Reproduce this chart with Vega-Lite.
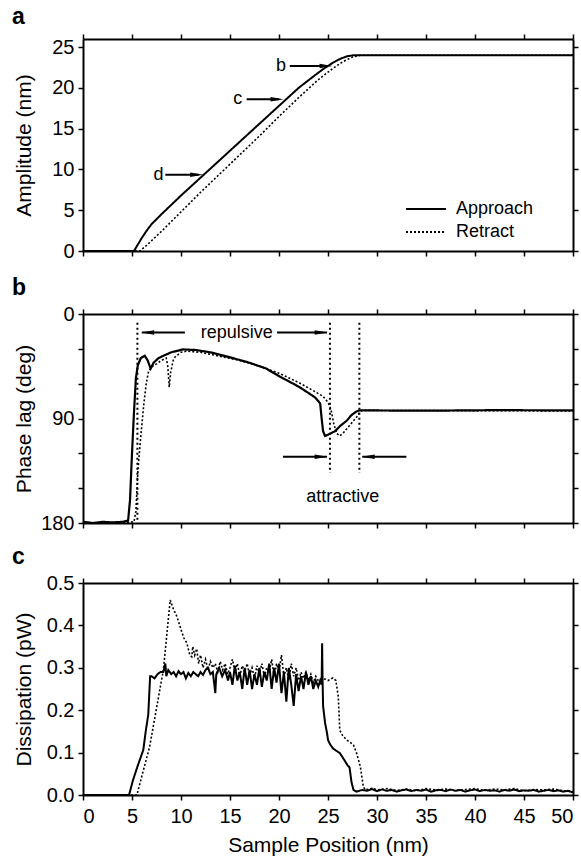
{
  "$schema": "https://vega.github.io/schema/vega-lite/v6.json",
  "background": "white",
  "padding": {"left": 12, "top": 6, "right": 6, "bottom": 4},
  "spacing": 16,
  "config": {
    "font": "Liberation Sans",
    "view": {"stroke": null},
    "axis": {
      "domainColor": "black", "domainWidth": 2, "tickColor": "black", "tickWidth": 1.5, "tickSize": 5,
      "labelColor": "black", "labelFontSize": 20, "labelPadding": 4, "titleFontSize": 21, "titleFontWeight": "normal",
      "titleColor": "black", "grid": false
    },
    "title": {"anchor": "start", "frame": "group", "dx": -71, "fontSize": 23, "fontWeight": "bold", "color": "black", "offset": 4},
    "legend": {"labelFontSize": 18, "labelColor": "black", "symbolStrokeColor": "black", "symbolStrokeWidth": 2, "symbolType": "M-2,0L2,0", "symbolSize": 400, "title": null, "rowPadding": 3, "labelOffset": 19}
  },
  "vconcat": [
    {
      "title": "a",
      "width": 490, "height": 212,
      "data": {"values": [
        {"x": 0, "v": 0, "s": "Approach"}, {"x": 5.2, "v": 0, "s": "Approach"}, {"x": 5.5, "v": 0.6, "s": "Approach"}, {"x": 6.0, "v": 1.6, "s": "Approach"}, {"x": 6.5, "v": 2.5, "s": "Approach"}, {"x": 7.0, "v": 3.3, "s": "Approach"}, {"x": 8, "v": 4.5, "s": "Approach"}, {"x": 10, "v": 6.8, "s": "Approach"}, {"x": 12, "v": 9.0, "s": "Approach"}, {"x": 14, "v": 11.2, "s": "Approach"}, {"x": 16, "v": 13.4, "s": "Approach"}, {"x": 18, "v": 15.6, "s": "Approach"}, {"x": 20, "v": 17.8, "s": "Approach"}, {"x": 22, "v": 20.0, "s": "Approach"}, {"x": 23.5, "v": 21.4, "s": "Approach"}, {"x": 24.5, "v": 22.3, "s": "Approach"}, {"x": 25.5, "v": 23.1, "s": "Approach"}, {"x": 26.3, "v": 23.6, "s": "Approach"}, {"x": 27, "v": 23.9, "s": "Approach"}, {"x": 27.6, "v": 24.0, "s": "Approach"}, {"x": 50, "v": 24.0, "s": "Approach"},
        {"x": 0, "v": 0, "s": "Retract"}, {"x": 5.8, "v": 0, "s": "Retract"}, {"x": 6.5, "v": 0.7, "s": "Retract"}, {"x": 8, "v": 2.4, "s": "Retract"}, {"x": 10, "v": 4.8, "s": "Retract"}, {"x": 12, "v": 7.2, "s": "Retract"}, {"x": 14, "v": 9.5, "s": "Retract"}, {"x": 16, "v": 11.8, "s": "Retract"}, {"x": 18, "v": 14.1, "s": "Retract"}, {"x": 20, "v": 16.5, "s": "Retract"}, {"x": 22, "v": 18.8, "s": "Retract"}, {"x": 24, "v": 21.0, "s": "Retract"}, {"x": 25.5, "v": 22.4, "s": "Retract"}, {"x": 26.5, "v": 23.2, "s": "Retract"}, {"x": 27.5, "v": 23.8, "s": "Retract"}, {"x": 28.3, "v": 24.0, "s": "Retract"}, {"x": 50, "v": 24.0, "s": "Retract"}
      ]},
      "resolve": {"axis": {"x": "independent", "y": "independent"}},
      "layer": [
        {
          "transform": [{"filter": "datum.s === 'Approach'"}],
          "mark": {"type": "line", "color": "black", "strokeWidth": 2},
          "encoding": {
            "x": {"field": "x", "type": "quantitative", "scale": {"domain": [0, 50]}, "axis": {"orient": "bottom", "values": [0,5,10,15,20,25,30,35,40,45,50], "labels": false, "title": null}},
            "y": {"field": "v", "type": "quantitative", "scale": {"domain": [0, 25]}, "axis": {"orient": "left", "values": [0,5,10,15,20,25], "title": "Amplitude (nm)", "titleX": -49, "titleBaseline": "bottom"}},
            "strokeDash": {"field": "s", "type": "nominal", "scale": {"domain": ["Approach", "Retract"], "range": [[1, 0], [2, 2]]}, "legend": {"orient": "none", "legendX": 332, "legendY": 159}}
          }
        },
        {
          "transform": [{"filter": "datum.s === 'Retract'"}],
          "mark": {"type": "line", "color": "black", "strokeWidth": 1.6},
          "encoding": {
            "x": {"field": "x", "type": "quantitative", "axis": {"orient": "top", "values": [0,5,10,15,20,25,30,35,40,45,50], "labels": false, "title": null}},
            "y": {"field": "v", "type": "quantitative", "axis": {"orient": "right", "values": [0,5,10,15,20,25], "labels": false, "title": null}},
            "strokeDash": {"field": "s", "type": "nominal", "legend": {"orient": "none", "legendX": 332, "legendY": 159}}
          }
        },
        {
          "data": {"values": [
            {"lab": "b", "tx": 20.2, "a0": 21.1, "a1": 25.0, "tip": 24.8, "y": 22.7},
            {"lab": "c", "tx": 15.8, "a0": 16.7, "a1": 20.0, "tip": 19.8, "y": 18.6},
            {"lab": "d", "tx": 7.7, "a0": 8.4, "a1": 11.8, "tip": 11.6, "y": 9.35}
          ]},
          "layer": [
            {"mark": {"type": "rule", "color": "black", "strokeWidth": 2}, "encoding": {"x": {"field": "a0", "type": "quantitative", "axis": null}, "x2": {"field": "a1"}, "y": {"field": "y", "type": "quantitative", "axis": null}}},
            {"mark": {"type": "point", "shape": "M-1,-0.35L1,0L-1,0.35Z", "filled": true, "color": "black", "size": 169, "opacity": 1}, "encoding": {"x": {"field": "tip", "type": "quantitative", "axis": null}, "y": {"field": "y", "type": "quantitative", "axis": null}}},
            {"mark": {"type": "text", "fontSize": 18, "color": "black", "align": "center", "baseline": "middle"}, "encoding": {"x": {"field": "tx", "type": "quantitative", "axis": null}, "y": {"field": "y", "type": "quantitative", "axis": null}, "text": {"field": "lab"}}}
          ]
        }
      ]
    },
    {
      "spacing": 13,
      "vconcat": [
        {
          "title": "b",
          "width": 490, "height": 209,
          "data": {"values": [
            {"x": 0, "v": 179, "s": "Approach"}, {"x": 1, "v": 180, "s": "Approach"}, {"x": 2, "v": 179, "s": "Approach"}, {"x": 3, "v": 179.5, "s": "Approach"}, {"x": 4, "v": 179, "s": "Approach"}, {"x": 4.6, "v": 178, "s": "Approach"}, {"x": 4.8, "v": 160, "s": "Approach"}, {"x": 5.0, "v": 120, "s": "Approach"}, {"x": 5.2, "v": 85, "s": "Approach"}, {"x": 5.4, "v": 55, "s": "Approach"}, {"x": 5.6, "v": 44, "s": "Approach"}, {"x": 5.9, "v": 38, "s": "Approach"}, {"x": 6.3, "v": 36, "s": "Approach"}, {"x": 6.6, "v": 40, "s": "Approach"}, {"x": 6.9, "v": 47, "s": "Approach"}, {"x": 7.2, "v": 42, "s": "Approach"}, {"x": 7.7, "v": 38, "s": "Approach"}, {"x": 8.2, "v": 36, "s": "Approach"}, {"x": 9.0, "v": 33, "s": "Approach"}, {"x": 10.2, "v": 30.5, "s": "Approach"}, {"x": 11.5, "v": 31, "s": "Approach"}, {"x": 13, "v": 33, "s": "Approach"}, {"x": 15.3, "v": 38, "s": "Approach"}, {"x": 17, "v": 42, "s": "Approach"}, {"x": 18.7, "v": 47, "s": "Approach"}, {"x": 20.1, "v": 54, "s": "Approach"}, {"x": 21, "v": 58, "s": "Approach"}, {"x": 22.1, "v": 63, "s": "Approach"}, {"x": 23, "v": 68, "s": "Approach"}, {"x": 23.7, "v": 72, "s": "Approach"}, {"x": 24.2, "v": 77, "s": "Approach"}, {"x": 24.35, "v": 90, "s": "Approach"}, {"x": 24.5, "v": 101, "s": "Approach"}, {"x": 24.7, "v": 105, "s": "Approach"}, {"x": 25.0, "v": 104, "s": "Approach"}, {"x": 25.7, "v": 101, "s": "Approach"}, {"x": 26.3, "v": 96, "s": "Approach"}, {"x": 26.9, "v": 92, "s": "Approach"}, {"x": 27.4, "v": 87, "s": "Approach"}, {"x": 27.9, "v": 84, "s": "Approach"}, {"x": 28.2, "v": 83, "s": "Approach"}, {"x": 35, "v": 83.3, "s": "Approach"}, {"x": 42, "v": 82.8, "s": "Approach"}, {"x": 50, "v": 83, "s": "Approach"},
            {"x": 0, "v": 180, "s": "Retract"}, {"x": 4, "v": 179.5, "s": "Retract"}, {"x": 5.2, "v": 179, "s": "Retract"}, {"x": 5.4, "v": 170, "s": "Retract"}, {"x": 5.6, "v": 135, "s": "Retract"}, {"x": 5.9, "v": 105, "s": "Retract"}, {"x": 6.2, "v": 78, "s": "Retract"}, {"x": 6.45, "v": 60, "s": "Retract"}, {"x": 6.7, "v": 49, "s": "Retract"}, {"x": 7.1, "v": 45, "s": "Retract"}, {"x": 7.5, "v": 43, "s": "Retract"}, {"x": 8.0, "v": 40, "s": "Retract"}, {"x": 8.5, "v": 38, "s": "Retract"}, {"x": 8.65, "v": 45, "s": "Retract"}, {"x": 8.8, "v": 63, "s": "Retract"}, {"x": 8.95, "v": 50, "s": "Retract"}, {"x": 9.2, "v": 40, "s": "Retract"}, {"x": 9.4, "v": 37, "s": "Retract"}, {"x": 10.0, "v": 33, "s": "Retract"}, {"x": 10.6, "v": 32, "s": "Retract"}, {"x": 12, "v": 33, "s": "Retract"}, {"x": 14, "v": 36.5, "s": "Retract"}, {"x": 16, "v": 40, "s": "Retract"}, {"x": 18, "v": 45, "s": "Retract"}, {"x": 20, "v": 51, "s": "Retract"}, {"x": 22, "v": 59, "s": "Retract"}, {"x": 23.5, "v": 66, "s": "Retract"}, {"x": 24.5, "v": 71, "s": "Retract"}, {"x": 25.0, "v": 76, "s": "Retract"}, {"x": 25.3, "v": 82, "s": "Retract"}, {"x": 25.6, "v": 95, "s": "Retract"}, {"x": 25.9, "v": 103, "s": "Retract"}, {"x": 26.2, "v": 105, "s": "Retract"}, {"x": 26.6, "v": 102, "s": "Retract"}, {"x": 27.2, "v": 96, "s": "Retract"}, {"x": 27.6, "v": 92, "s": "Retract"}, {"x": 27.9, "v": 89, "s": "Retract"}, {"x": 28.3, "v": 84, "s": "Retract"}, {"x": 28.5, "v": 83, "s": "Retract"}, {"x": 50, "v": 83.5, "s": "Retract"}
          ]},
          "resolve": {"axis": {"x": "independent", "y": "independent"}},
          "layer": [
            {
              "transform": [{"filter": "datum.s === 'Approach'"}],
              "mark": {"type": "line", "color": "black", "strokeWidth": 2.2},
              "encoding": {
                "x": {"field": "x", "type": "quantitative", "scale": {"domain": [0, 50]}, "axis": {"orient": "bottom", "values": [0,5,10,15,20,25,30,35,40,45,50], "labels": false, "title": null}},
                "y": {"field": "v", "type": "quantitative", "scale": {"domain": [0, 180], "reverse": true}, "axis": {"orient": "left", "values": [0,30,60,90,120,150,180], "labelExpr": "datum.value % 90 === 0 ? datum.label : ''", "title": "Phase lag (deg)", "titleX": -49, "titleBaseline": "bottom"}},
                "strokeDash": {"field": "s", "type": "nominal", "scale": {"domain": ["Approach", "Retract"], "range": [[1, 0], [2, 2]]}, "legend": null}
              }
            },
            {
              "transform": [{"filter": "datum.s === 'Retract'"}],
              "mark": {"type": "line", "color": "black", "strokeWidth": 1.6},
              "encoding": {
                "x": {"field": "x", "type": "quantitative", "axis": {"orient": "top", "values": [0,5,10,15,20,25,30,35,40,45,50], "labels": false, "title": null}},
                "y": {"field": "v", "type": "quantitative", "axis": {"orient": "right", "values": [0,30,60,90,120,150,180], "labels": false, "title": null}},
                "strokeDash": {"field": "s", "type": "nominal", "legend": null}
              }
            },
            {
              "data": {"values": [
                {"x": 5.55, "y0": 7.5, "y1": 178},
                {"x": 25.2, "y0": 7.5, "y1": 137},
                {"x": 28.2, "y0": 7.5, "y1": 137}
              ]},
              "mark": {"type": "rule", "color": "black", "strokeWidth": 2, "strokeDash": [2, 3]},
              "encoding": {"x": {"field": "x", "type": "quantitative", "axis": null}, "y": {"field": "y0", "type": "quantitative", "axis": null}, "y2": {"field": "y1"}}
            },
            {
              "data": {"values": [
                {"a0": 10.4, "a1": 6.0, "tip": 6.6, "y": 16, "dir": "left"},
                {"a0": 19.8, "a1": 24.9, "tip": 24.3, "y": 16, "dir": "right"},
                {"a0": 20.4, "a1": 24.9, "tip": 24.3, "y": 123, "dir": "right"},
                {"a0": 33.0, "a1": 28.5, "tip": 29.1, "y": 123, "dir": "left"}
              ]},
              "layer": [
                {"mark": {"type": "rule", "color": "black", "strokeWidth": 2}, "encoding": {"x": {"field": "a0", "type": "quantitative", "axis": null}, "x2": {"field": "a1"}, "y": {"field": "y", "type": "quantitative", "axis": null}}},
                {"mark": {"type": "point", "filled": true, "color": "black", "size": 169, "opacity": 1}, "encoding": {"x": {"field": "tip", "type": "quantitative", "axis": null}, "y": {"field": "y", "type": "quantitative", "axis": null}, "shape": {"field": "dir", "type": "nominal", "scale": {"domain": ["left", "right"], "range": ["M1,-0.35L-1,0L1,0.35Z", "M-1,-0.35L1,0L-1,0.35Z"]}, "legend": null}}}
              ]
            },
            {
              "data": {"values": [
                {"t": "repulsive", "x": 15.7, "y": 16},
                {"t": "attractive", "x": 26.5, "y": 158}
              ]},
              "mark": {"type": "text", "fontSize": 18, "color": "black", "align": "center", "baseline": "middle"},
              "encoding": {"x": {"field": "x", "type": "quantitative", "axis": null}, "y": {"field": "y", "type": "quantitative", "axis": null}, "text": {"field": "t"}}
            }
          ]
        },
        {
          "title": "c",
          "width": 490, "height": 212,
          "data": {"values": [
            {"x": 0, "v": 0, "s": "Approach"}, {"x": 4.7, "v": 0, "s": "Approach"}, {"x": 5.1, "v": 0.035, "s": "Approach"}, {"x": 5.6, "v": 0.07, "s": "Approach"}, {"x": 6.15, "v": 0.106, "s": "Approach"}, {"x": 6.4, "v": 0.15, "s": "Approach"}, {"x": 6.66, "v": 0.19, "s": "Approach"}, {"x": 6.85, "v": 0.28, "s": "Approach"}, {"x": 7.0, "v": 0.28, "s": "Approach"}, {"x": 7.3, "v": 0.275, "s": "Approach"}, {"x": 7.6, "v": 0.285, "s": "Approach"}, {"x": 7.9, "v": 0.29, "s": "Approach"}, {"x": 8.2, "v": 0.29, "s": "Approach"}, {"x": 8.4, "v": 0.31, "s": "Approach"}, {"x": 8.5, "v": 0.28, "s": "Approach"}, {"x": 8.7, "v": 0.295, "s": "Approach"}, {"x": 9.0, "v": 0.285, "s": "Approach"}, {"x": 9.25, "v": 0.29, "s": "Approach"}, {"x": 9.5, "v": 0.28, "s": "Approach"}, {"x": 9.75, "v": 0.292, "s": "Approach"}, {"x": 10.0, "v": 0.285, "s": "Approach"}, {"x": 10.25, "v": 0.29, "s": "Approach"}, {"x": 10.5, "v": 0.275, "s": "Approach"}, {"x": 10.75, "v": 0.288, "s": "Approach"}, {"x": 11.0, "v": 0.28, "s": "Approach"}, {"x": 11.25, "v": 0.29, "s": "Approach"}, {"x": 11.5, "v": 0.285, "s": "Approach"}, {"x": 11.75, "v": 0.28, "s": "Approach"}, {"x": 12.0, "v": 0.29, "s": "Approach"}, {"x": 12.25, "v": 0.283, "s": "Approach"}, {"x": 12.5, "v": 0.295, "s": "Approach"}, {"x": 12.75, "v": 0.3, "s": "Approach"}, {"x": 13.0, "v": 0.285, "s": "Approach"}, {"x": 13.25, "v": 0.29, "s": "Approach"}, {"x": 13.5, "v": 0.24, "s": "Approach"}, {"x": 13.6, "v": 0.285, "s": "Approach"}, {"x": 13.9, "v": 0.3, "s": "Approach"}, {"x": 14.2, "v": 0.28, "s": "Approach"}, {"x": 14.5, "v": 0.295, "s": "Approach"}, {"x": 14.8, "v": 0.27, "s": "Approach"}, {"x": 15.0, "v": 0.29, "s": "Approach"}, {"x": 15.25, "v": 0.26, "s": "Approach"}, {"x": 15.5, "v": 0.305, "s": "Approach"}, {"x": 15.75, "v": 0.27, "s": "Approach"}, {"x": 16.0, "v": 0.29, "s": "Approach"}, {"x": 16.25, "v": 0.25, "s": "Approach"}, {"x": 16.5, "v": 0.3, "s": "Approach"}, {"x": 16.75, "v": 0.26, "s": "Approach"}, {"x": 17.0, "v": 0.295, "s": "Approach"}, {"x": 17.25, "v": 0.25, "s": "Approach"}, {"x": 17.5, "v": 0.285, "s": "Approach"}, {"x": 17.75, "v": 0.26, "s": "Approach"}, {"x": 18.0, "v": 0.3, "s": "Approach"}, {"x": 18.25, "v": 0.255, "s": "Approach"}, {"x": 18.5, "v": 0.29, "s": "Approach"}, {"x": 18.75, "v": 0.27, "s": "Approach"}, {"x": 19.0, "v": 0.31, "s": "Approach"}, {"x": 19.25, "v": 0.25, "s": "Approach"}, {"x": 19.5, "v": 0.3, "s": "Approach"}, {"x": 19.75, "v": 0.265, "s": "Approach"}, {"x": 20.0, "v": 0.31, "s": "Approach"}, {"x": 20.25, "v": 0.24, "s": "Approach"}, {"x": 20.5, "v": 0.29, "s": "Approach"}, {"x": 20.75, "v": 0.22, "s": "Approach"}, {"x": 21.0, "v": 0.3, "s": "Approach"}, {"x": 21.25, "v": 0.26, "s": "Approach"}, {"x": 21.5, "v": 0.21, "s": "Approach"}, {"x": 21.75, "v": 0.285, "s": "Approach"}, {"x": 22.0, "v": 0.245, "s": "Approach"}, {"x": 22.25, "v": 0.28, "s": "Approach"}, {"x": 22.5, "v": 0.25, "s": "Approach"}, {"x": 22.75, "v": 0.29, "s": "Approach"}, {"x": 23.0, "v": 0.26, "s": "Approach"}, {"x": 23.25, "v": 0.28, "s": "Approach"}, {"x": 23.5, "v": 0.25, "s": "Approach"}, {"x": 23.75, "v": 0.27, "s": "Approach"}, {"x": 24.0, "v": 0.255, "s": "Approach"}, {"x": 24.2, "v": 0.27, "s": "Approach"}, {"x": 24.35, "v": 0.26, "s": "Approach"}, {"x": 24.4, "v": 0.358, "s": "Approach"}, {"x": 24.45, "v": 0.265, "s": "Approach"}, {"x": 24.5, "v": 0.21, "s": "Approach"}, {"x": 24.7, "v": 0.17, "s": "Approach"}, {"x": 24.9, "v": 0.146, "s": "Approach"}, {"x": 25.0, "v": 0.13, "s": "Approach"}, {"x": 25.2, "v": 0.12, "s": "Approach"}, {"x": 25.5, "v": 0.11, "s": "Approach"}, {"x": 25.8, "v": 0.105, "s": "Approach"}, {"x": 26.2, "v": 0.099, "s": "Approach"}, {"x": 26.6, "v": 0.085, "s": "Approach"}, {"x": 27.0, "v": 0.07, "s": "Approach"}, {"x": 27.2, "v": 0.065, "s": "Approach"}, {"x": 27.4, "v": 0.03, "s": "Approach"}, {"x": 27.6, "v": 0.012, "s": "Approach"}, {"x": 27.9, "v": 0.008, "s": "Approach"}, {"x": 28.5, "v": 0.012, "s": "Approach"}, {"x": 29, "v": 0.01, "s": "Approach"}, {"x": 29.5, "v": 0.014, "s": "Approach"}, {"x": 30, "v": 0.009, "s": "Approach"}, {"x": 30.5, "v": 0.013, "s": "Approach"}, {"x": 31, "v": 0.01, "s": "Approach"}, {"x": 31.5, "v": 0.012, "s": "Approach"}, {"x": 32, "v": 0.008, "s": "Approach"}, {"x": 32.5, "v": 0.011, "s": "Approach"}, {"x": 33, "v": 0.013, "s": "Approach"}, {"x": 33.5, "v": 0.009, "s": "Approach"}, {"x": 34, "v": 0.012, "s": "Approach"}, {"x": 34.5, "v": 0.01, "s": "Approach"}, {"x": 35, "v": 0.013, "s": "Approach"}, {"x": 35.5, "v": 0.008, "s": "Approach"}, {"x": 36, "v": 0.011, "s": "Approach"}, {"x": 36.5, "v": 0.012, "s": "Approach"}, {"x": 37, "v": 0.009, "s": "Approach"}, {"x": 37.5, "v": 0.013, "s": "Approach"}, {"x": 38, "v": 0.01, "s": "Approach"}, {"x": 38.5, "v": 0.012, "s": "Approach"}, {"x": 39, "v": 0.008, "s": "Approach"}, {"x": 39.5, "v": 0.011, "s": "Approach"}, {"x": 40, "v": 0.013, "s": "Approach"}, {"x": 40.5, "v": 0.009, "s": "Approach"}, {"x": 41, "v": 0.012, "s": "Approach"}, {"x": 41.5, "v": 0.01, "s": "Approach"}, {"x": 42, "v": 0.011, "s": "Approach"}, {"x": 42.5, "v": 0.008, "s": "Approach"}, {"x": 43, "v": 0.012, "s": "Approach"}, {"x": 43.5, "v": 0.01, "s": "Approach"}, {"x": 44, "v": 0.013, "s": "Approach"}, {"x": 44.5, "v": 0.009, "s": "Approach"}, {"x": 45, "v": 0.011, "s": "Approach"}, {"x": 45.5, "v": 0.01, "s": "Approach"}, {"x": 46, "v": 0.012, "s": "Approach"}, {"x": 46.5, "v": 0.008, "s": "Approach"}, {"x": 47, "v": 0.01, "s": "Approach"}, {"x": 47.5, "v": 0.012, "s": "Approach"}, {"x": 48, "v": 0.009, "s": "Approach"}, {"x": 48.5, "v": 0.011, "s": "Approach"}, {"x": 49, "v": 0.008, "s": "Approach"}, {"x": 49.5, "v": 0.01, "s": "Approach"}, {"x": 50, "v": 0.006, "s": "Approach"},
            {"x": 0, "v": 0, "s": "Retract"}, {"x": 5.5, "v": 0, "s": "Retract"}, {"x": 6.8, "v": 0.114, "s": "Retract"}, {"x": 8.2, "v": 0.295, "s": "Retract"}, {"x": 8.9, "v": 0.46, "s": "Retract"}, {"x": 9.2, "v": 0.44, "s": "Retract"}, {"x": 9.6, "v": 0.42, "s": "Retract"}, {"x": 10.0, "v": 0.39, "s": "Retract"}, {"x": 10.3, "v": 0.37, "s": "Retract"}, {"x": 10.6, "v": 0.358, "s": "Retract"}, {"x": 10.9, "v": 0.33, "s": "Retract"}, {"x": 11.1, "v": 0.326, "s": "Retract"}, {"x": 11.2, "v": 0.35, "s": "Retract"}, {"x": 11.4, "v": 0.33, "s": "Retract"}, {"x": 11.6, "v": 0.345, "s": "Retract"}, {"x": 11.8, "v": 0.31, "s": "Retract"}, {"x": 12.0, "v": 0.33, "s": "Retract"}, {"x": 12.25, "v": 0.3, "s": "Retract"}, {"x": 12.5, "v": 0.32, "s": "Retract"}, {"x": 12.75, "v": 0.295, "s": "Retract"}, {"x": 13.0, "v": 0.315, "s": "Retract"}, {"x": 13.25, "v": 0.3, "s": "Retract"}, {"x": 13.5, "v": 0.31, "s": "Retract"}, {"x": 13.75, "v": 0.29, "s": "Retract"}, {"x": 14.0, "v": 0.315, "s": "Retract"}, {"x": 14.25, "v": 0.295, "s": "Retract"}, {"x": 14.5, "v": 0.31, "s": "Retract"}, {"x": 14.75, "v": 0.285, "s": "Retract"}, {"x": 15.0, "v": 0.3, "s": "Retract"}, {"x": 15.25, "v": 0.32, "s": "Retract"}, {"x": 15.5, "v": 0.29, "s": "Retract"}, {"x": 15.75, "v": 0.31, "s": "Retract"}, {"x": 16.0, "v": 0.28, "s": "Retract"}, {"x": 16.25, "v": 0.305, "s": "Retract"}, {"x": 16.5, "v": 0.29, "s": "Retract"}, {"x": 16.75, "v": 0.31, "s": "Retract"}, {"x": 17.0, "v": 0.28, "s": "Retract"}, {"x": 17.25, "v": 0.3, "s": "Retract"}, {"x": 17.5, "v": 0.275, "s": "Retract"}, {"x": 17.75, "v": 0.305, "s": "Retract"}, {"x": 18.0, "v": 0.285, "s": "Retract"}, {"x": 18.25, "v": 0.31, "s": "Retract"}, {"x": 18.5, "v": 0.28, "s": "Retract"}, {"x": 18.75, "v": 0.3, "s": "Retract"}, {"x": 19.0, "v": 0.29, "s": "Retract"}, {"x": 19.25, "v": 0.32, "s": "Retract"}, {"x": 19.5, "v": 0.28, "s": "Retract"}, {"x": 19.75, "v": 0.31, "s": "Retract"}, {"x": 20.0, "v": 0.29, "s": "Retract"}, {"x": 20.25, "v": 0.33, "s": "Retract"}, {"x": 20.5, "v": 0.28, "s": "Retract"}, {"x": 20.75, "v": 0.3, "s": "Retract"}, {"x": 21.0, "v": 0.27, "s": "Retract"}, {"x": 21.25, "v": 0.31, "s": "Retract"}, {"x": 21.5, "v": 0.28, "s": "Retract"}, {"x": 21.75, "v": 0.3, "s": "Retract"}, {"x": 22.0, "v": 0.27, "s": "Retract"}, {"x": 22.25, "v": 0.29, "s": "Retract"}, {"x": 22.5, "v": 0.275, "s": "Retract"}, {"x": 22.75, "v": 0.29, "s": "Retract"}, {"x": 23.0, "v": 0.27, "s": "Retract"}, {"x": 23.25, "v": 0.285, "s": "Retract"}, {"x": 23.5, "v": 0.265, "s": "Retract"}, {"x": 23.75, "v": 0.28, "s": "Retract"}, {"x": 24.0, "v": 0.27, "s": "Retract"}, {"x": 24.5, "v": 0.275, "s": "Retract"}, {"x": 25.0, "v": 0.27, "s": "Retract"}, {"x": 25.5, "v": 0.276, "s": "Retract"}, {"x": 25.8, "v": 0.27, "s": "Retract"}, {"x": 26.05, "v": 0.232, "s": "Retract"}, {"x": 26.2, "v": 0.153, "s": "Retract"}, {"x": 26.5, "v": 0.14, "s": "Retract"}, {"x": 26.9, "v": 0.13, "s": "Retract"}, {"x": 27.2, "v": 0.125, "s": "Retract"}, {"x": 27.6, "v": 0.118, "s": "Retract"}, {"x": 27.9, "v": 0.1, "s": "Retract"}, {"x": 28.3, "v": 0.067, "s": "Retract"}, {"x": 28.6, "v": 0.02, "s": "Retract"}, {"x": 28.8, "v": 0.012, "s": "Retract"}, {"x": 29.5, "v": 0.016, "s": "Retract"}, {"x": 30, "v": 0.012, "s": "Retract"}, {"x": 31, "v": 0.015, "s": "Retract"}, {"x": 32, "v": 0.011, "s": "Retract"}, {"x": 33, "v": 0.014, "s": "Retract"}, {"x": 34, "v": 0.01, "s": "Retract"}, {"x": 35, "v": 0.015, "s": "Retract"}, {"x": 36, "v": 0.012, "s": "Retract"}, {"x": 37, "v": 0.014, "s": "Retract"}, {"x": 38, "v": 0.01, "s": "Retract"}, {"x": 39, "v": 0.013, "s": "Retract"}, {"x": 40, "v": 0.015, "s": "Retract"}, {"x": 41, "v": 0.011, "s": "Retract"}, {"x": 42, "v": 0.014, "s": "Retract"}, {"x": 43, "v": 0.012, "s": "Retract"}, {"x": 44, "v": 0.015, "s": "Retract"}, {"x": 45, "v": 0.01, "s": "Retract"}, {"x": 46, "v": 0.013, "s": "Retract"}, {"x": 47, "v": 0.012, "s": "Retract"}, {"x": 48, "v": 0.014, "s": "Retract"}, {"x": 49, "v": 0.01, "s": "Retract"}, {"x": 50, "v": 0.008, "s": "Retract"}
          ]},
          "resolve": {"axis": {"x": "independent", "y": "independent"}},
          "layer": [
            {
              "transform": [{"filter": "datum.s === 'Approach'"}],
              "mark": {"type": "line", "color": "black", "strokeWidth": 2},
              "encoding": {
                "x": {"field": "x", "type": "quantitative", "scale": {"domain": [0, 50]}, "axis": {"orient": "bottom", "values": [0,5,10,15,20,25,30,35,40,45,50], "title": "Sample Position (nm)", "labelPadding": 6, "titlePadding": 8}},
                "y": {"field": "v", "type": "quantitative", "scale": {"domain": [0, 0.5]}, "axis": {"orient": "left", "values": [0,0.1,0.2,0.3,0.4,0.5], "format": ".1f", "title": "Dissipation (pW)", "titleX": -49, "titleBaseline": "bottom"}},
                "strokeDash": {"field": "s", "type": "nominal", "scale": {"domain": ["Approach", "Retract"], "range": [[1, 0], [2, 2]]}, "legend": null}
              }
            },
            {
              "transform": [{"filter": "datum.s === 'Retract'"}],
              "mark": {"type": "line", "color": "black", "strokeWidth": 1.6},
              "encoding": {
                "x": {"field": "x", "type": "quantitative", "axis": {"orient": "top", "values": [0,5,10,15,20,25,30,35,40,45,50], "labels": false, "title": null}},
                "y": {"field": "v", "type": "quantitative", "axis": {"orient": "right", "values": [0,0.1,0.2,0.3,0.4,0.5], "labels": false, "title": null}},
                "strokeDash": {"field": "s", "type": "nominal", "legend": null}
              }
            }
          ]
        }
      ],
      "resolve": {"scale": {"strokeDash": "independent", "shape": "independent"}, "legend": {"strokeDash": "independent"}}
    }
  ],
  "resolve": {"scale": {"strokeDash": "independent", "shape": "independent"}, "legend": {"strokeDash": "independent"}}
}
